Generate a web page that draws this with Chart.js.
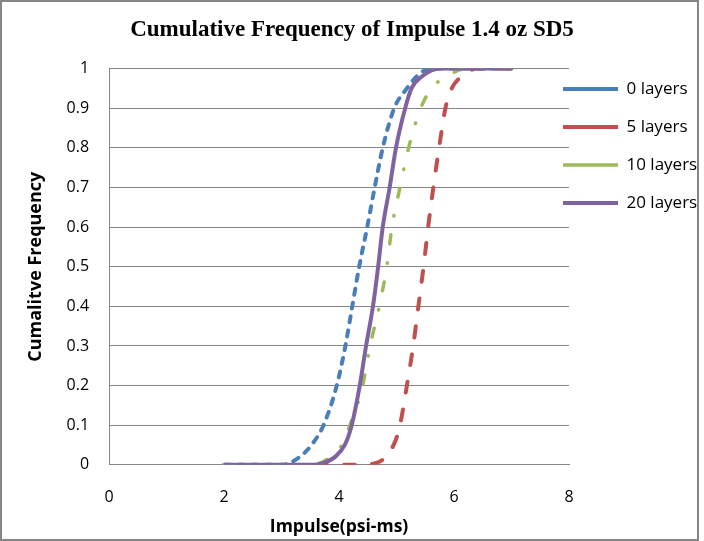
<!DOCTYPE html>
<html>
<head>
<meta charset="utf-8">
<script src="https://cdn.jsdelivr.net/npm/chart.js@4/dist/chart.umd.min.js"></script>
<style>
    body { margin: 0; background: #fff; }
    #wrap { width: 704px; height: 541px; }
</style>
</head>
<body>
<div id="wrap"><canvas id="chartImpulse" width="704" height="541"></canvas></div>
<script>
const seriesNames = ["0 layers", "5 layers", "10 layers", "20 layers"];
const seriesColors = ["#4A7EBB", "#C0504D", "#9BBB59", "#7F63A1"];

const impulse0 = [2, 3.0, 3.32, 3.52, 3.73, 3.96, 4.11, 4.23, 4.35, 4.49, 4.62, 4.76, 4.96, 5.18, 5.35, 5.58, 7];
const freq0 = [0, 0, 0.02, 0.05, 0.1, 0.2, 0.3, 0.4, 0.5, 0.6, 0.7, 0.8, 0.9, 0.95, 0.98, 1, 1];

const impulse5 = [3.6, 4.3, 4.65, 4.95, 5.06, 5.18, 5.29, 5.38, 5.47, 5.55, 5.64, 5.74, 5.85, 5.96, 6.13, 6.4, 7];
const freq5 = [0, 0, 0.005, 0.05, 0.1, 0.2, 0.3, 0.4, 0.5, 0.6, 0.7, 0.8, 0.9, 0.95, 0.98, 1, 1];

const impulse10 = [2, 3.5, 3.75, 4.05, 4.19, 4.41, 4.54, 4.70, 4.83, 4.92, 5.06, 5.21, 5.42, 5.61, 5.87, 6.22, 7];
const freq10 = [0, 0, 0.01, 0.05, 0.1, 0.2, 0.3, 0.4, 0.5, 0.6, 0.7, 0.8, 0.9, 0.95, 0.98, 1, 1];

const impulse20 = [2, 3.55, 3.73, 3.93, 4.10, 4.22, 4.36, 4.47, 4.59, 4.68, 4.76, 4.88, 4.99, 5.15, 5.26, 5.44, 5.76, 7];
const freq20 = [0, 0, 0.005, 0.02, 0.05, 0.1, 0.2, 0.3, 0.4, 0.5, 0.6, 0.7, 0.8, 0.9, 0.95, 0.98, 1, 1];

const xMin = 0, xMax = 8, xStep = 2;
const yMin = 0, yMax = 1, yStep = 0.1;

const gridGray = "#868686";

function toPoints(xs, ys) {
    return xs.map((x, i) => ({ x: x, y: ys[i] }));
}

function lineDataset(idx, xs, ys, dash, width, order) {
    return {
        label: seriesNames[idx],
        data: toPoints(xs, ys),
        borderColor: seriesColors[idx],
        backgroundColor: seriesColors[idx],
        borderWidth: width,
        borderDash: dash,
        borderCapStyle: dash.length ? "round" : "butt",
        pointRadius: 0,
        cubicInterpolationMode: "monotone",
        fill: false,
        order: order
    };
}

// chart frame + white background
const framePlugin = {
    id: "frame",
    beforeDraw(chart) {
        const ctx = chart.ctx;
        ctx.save();
        ctx.fillStyle = "#fff";
        ctx.fillRect(0, 0, chart.width, chart.height);
        ctx.restore();
    },
    afterDraw(chart) {
        const ctx = chart.ctx;
        ctx.save();
        ctx.strokeStyle = gridGray;
        ctx.lineWidth = 2;
        ctx.strokeRect(1, 1, 697, 539);
        ctx.restore();
    }
};

// Excel puts the legend a bit into the plot's right margin
const legendNudge = {
    id: "legendNudge",
    afterLayout(chart) {
        chart.legend.left -= 27;
        chart.legend.top -= 9;
    }
};

new Chart(document.getElementById("chartImpulse"), {
    type: "line",
    data: {
        datasets: [
            lineDataset(0, impulse0, freq0, [6, 8], 4, 3),
            lineDataset(1, impulse5, freq5, [11, 17], 4, 2),
            lineDataset(2, impulse10, freq10, [9, 19, 0.5, 19], 3.5, 1),
            lineDataset(3, impulse20, freq20, [], 4, 0)
        ]
    },
    options: {
        responsive: false,
        animation: false,
        layout: { padding: 0 },
        plugins: {
            title: {
                display: true,
                text: "Cumulative Frequency of Impulse 1.4 oz SD5",
                color: "#000",
                font: { family: "Liberation Serif", size: 23, weight: "bold" },
                padding: { top: 16, bottom: 25 }
            },
            legend: {
                position: "right",
                align: "start",
                fullSize: false,
                maxWidth: 135,
                labels: {
                    color: "#000",
                    font: { family: "Open Sans", size: 17 },
                    usePointStyle: true,
                    pointStyle: "line",
                    pointStyleWidth: 55,
                    padding: 21,
                    sort: (a, b) => a.datasetIndex - b.datasetIndex
                }
            },
            tooltip: { enabled: false }
        },
        scales: {
            x: {
                type: "linear",
                min: xMin,
                max: xMax,
                ticks: {
                    stepSize: xStep,
                    color: "#000",
                    font: { family: "Open Sans", size: 16 },
                    padding: 10
                },
                grid: { drawOnChartArea: false, drawTicks: true, tickLength: 13, tickColor: "rgba(0,0,0,0)" },
                border: { color: gridGray, width: 1 },
                title: {
                    display: true,
                    text: "Impulse(psi-ms)",
                    color: "#000",
                    font: { family: "Open Sans", size: 17.5, weight: "bold" },
                    padding: { top: 0, bottom: 3 }
                }
            },
            y: {
                min: yMin,
                max: yMax,
                ticks: {
                    stepSize: yStep,
                    color: "#000",
                    font: { family: "Open Sans", size: 16 },
                    padding: 20,
                    callback: v => String(Number(v.toFixed(1)))
                },
                grid: { color: gridGray, drawTicks: false },
                border: { color: gridGray, width: 1 },
                title: {
                    display: true,
                    text: "Cumalitve Frequency",
                    color: "#000",
                    font: { family: "Open Sans", size: 18, weight: "bold" },
                    padding: { top: 25, bottom: 0 }
                }
            }
        }
    },
    plugins: [framePlugin, legendNudge]
});
</script>
</body>
</html>
